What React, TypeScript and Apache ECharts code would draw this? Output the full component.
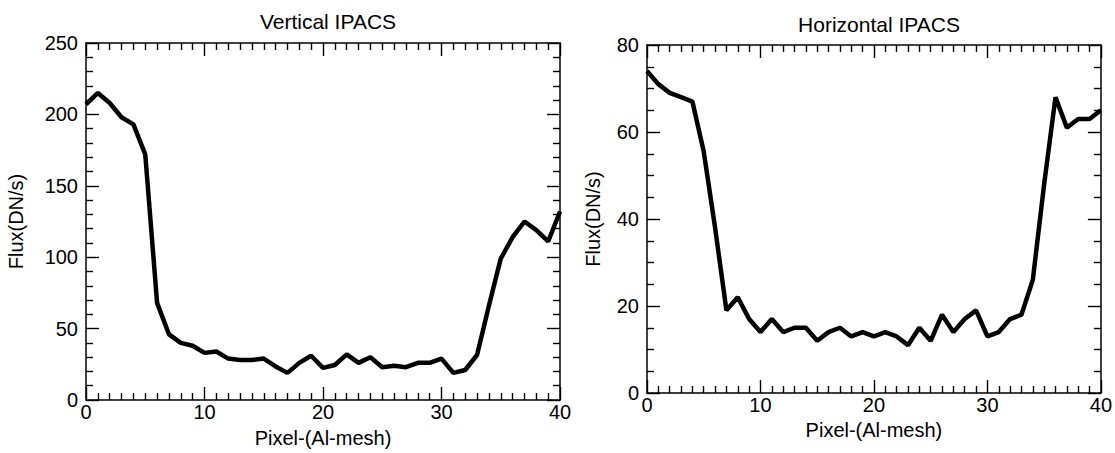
import React, { useEffect, useRef } from "react";
import * as echarts from "echarts";

const pixels: number[] = Array.from({ length: 41 }, (_, i) => i);

const verticalFlux: number[] = [
  207, 215, 208, 198, 193, 172, 68, 46, 40, 38,
  33, 34, 29, 28, 28, 29, 23.5, 19, 26, 31,
  22.5, 24.5, 32, 26, 30, 23, 24, 23, 26, 26,
  29, 19, 21, 31.5, 66, 99, 114, 125, 119, 111,
  132,
];

const horizontalFlux: number[] = [
  74, 71, 69, 68, 67, 55.5, 38, 19, 22, 17,
  14, 17, 14, 15, 15, 12, 14, 15, 13, 14,
  13, 14, 13, 11, 15, 12, 18, 14, 17, 19,
  13, 14, 17, 18, 26, 48, 68, 61, 63, 63,
  65,
];

const titles: string[] = ["Vertical IPACS", "Horizontal IPACS"];
const xName = "Pixel-(Al-mesh)";
const yName = "Flux(DN/s)";

const FONT = "Liberation Sans, Arial, Helvetica, sans-serif";

export default function App() {
  const ref = useRef<HTMLDivElement>(null);

  useEffect(() => {
    document.body.style.margin = "0";
    if (!ref.current) return;
    const chart = echarts.init(ref.current, undefined, { renderer: "svg" });

    const grids = [
      { left: 86, top: 43, width: 474, height: 364 },
      { left: 647, top: 45, width: 454, height: 348 },
    ];
    const yCfg = [
      { max: 250, interval: 50, split: 5, nameGap: 60, xGap: 28 },
      { max: 80, interval: 20, split: 4, nameGap: 44, xGap: 22 },
    ];

    const axisLine = { show: true, onZero: false, lineStyle: { color: "#000", width: 1.5 } };
    const tick = { show: true, inside: true, length: 13, lineStyle: { color: "#000", width: 1.4 } };
    const minor = (n: number) => ({ show: true, splitNumber: n, length: 7, lineStyle: { color: "#000", width: 1.4 } });
    const label = { color: "#000", fontSize: 20, fontFamily: FONT };

    const xAxis: any[] = [];
    const yAxis: any[] = [];
    grids.forEach((_, g) => {
      xAxis.push({
        type: "value", gridIndex: g, min: 0, max: 40, interval: 10, position: "bottom",
        name: xName, nameLocation: "middle", nameGap: yCfg[g].xGap,
        nameTextStyle: { color: "#000", fontSize: 20, fontFamily: FONT },
        axisLine, axisTick: tick, minorTick: minor(10),
        axisLabel: { ...label, margin: 2 }, splitLine: { show: false },
      });
      xAxis.push({
        type: "value", gridIndex: g, min: 0, max: 40, interval: 10, position: "top",
        axisLine, axisTick: tick, minorTick: minor(10),
        axisLabel: { show: false }, splitLine: { show: false },
      });
      yAxis.push({
        type: "value", gridIndex: g, min: 0, max: yCfg[g].max, interval: yCfg[g].interval, position: "left",
        name: yName, nameLocation: "middle", nameGap: yCfg[g].nameGap,
        nameTextStyle: { color: "#000", fontSize: 20, fontFamily: FONT },
        axisLine, axisTick: tick, minorTick: minor(yCfg[g].split),
        axisLabel: { ...label, margin: 8 }, splitLine: { show: false },
      });
      yAxis.push({
        type: "value", gridIndex: g, min: 0, max: yCfg[g].max, interval: yCfg[g].interval, position: "right",
        axisLine, axisTick: tick, minorTick: minor(yCfg[g].split),
        axisLabel: { show: false }, splitLine: { show: false },
      });
    });

    chart.setOption({
      animation: false,
      backgroundColor: "#fff",
      title: [
        { text: titles[0], left: 323, top: 6, textAlign: "center",
          textStyle: { color: "#000", fontSize: 21, fontWeight: "normal", fontFamily: FONT } },
        { text: titles[1], left: 874, top: 9, textAlign: "center",
          textStyle: { color: "#000", fontSize: 21, fontWeight: "normal", fontFamily: FONT } },
      ],
      grid: grids,
      xAxis,
      yAxis,
      series: [
        {
          type: "line", xAxisIndex: 0, yAxisIndex: 0, showSymbol: false,
          lineStyle: { color: "#000", width: 4.5 },
          data: pixels.map((p, i) => [p, verticalFlux[i]]),
        },
        {
          type: "line", xAxisIndex: 2, yAxisIndex: 2, showSymbol: false,
          lineStyle: { color: "#000", width: 4.5 },
          data: pixels.map((p, i) => [p, horizontalFlux[i]]),
        },
      ],
    });

    return () => chart.dispose();
  }, []);

  return <div ref={ref} style={{ width: 1115, height: 453 }} />;
}
